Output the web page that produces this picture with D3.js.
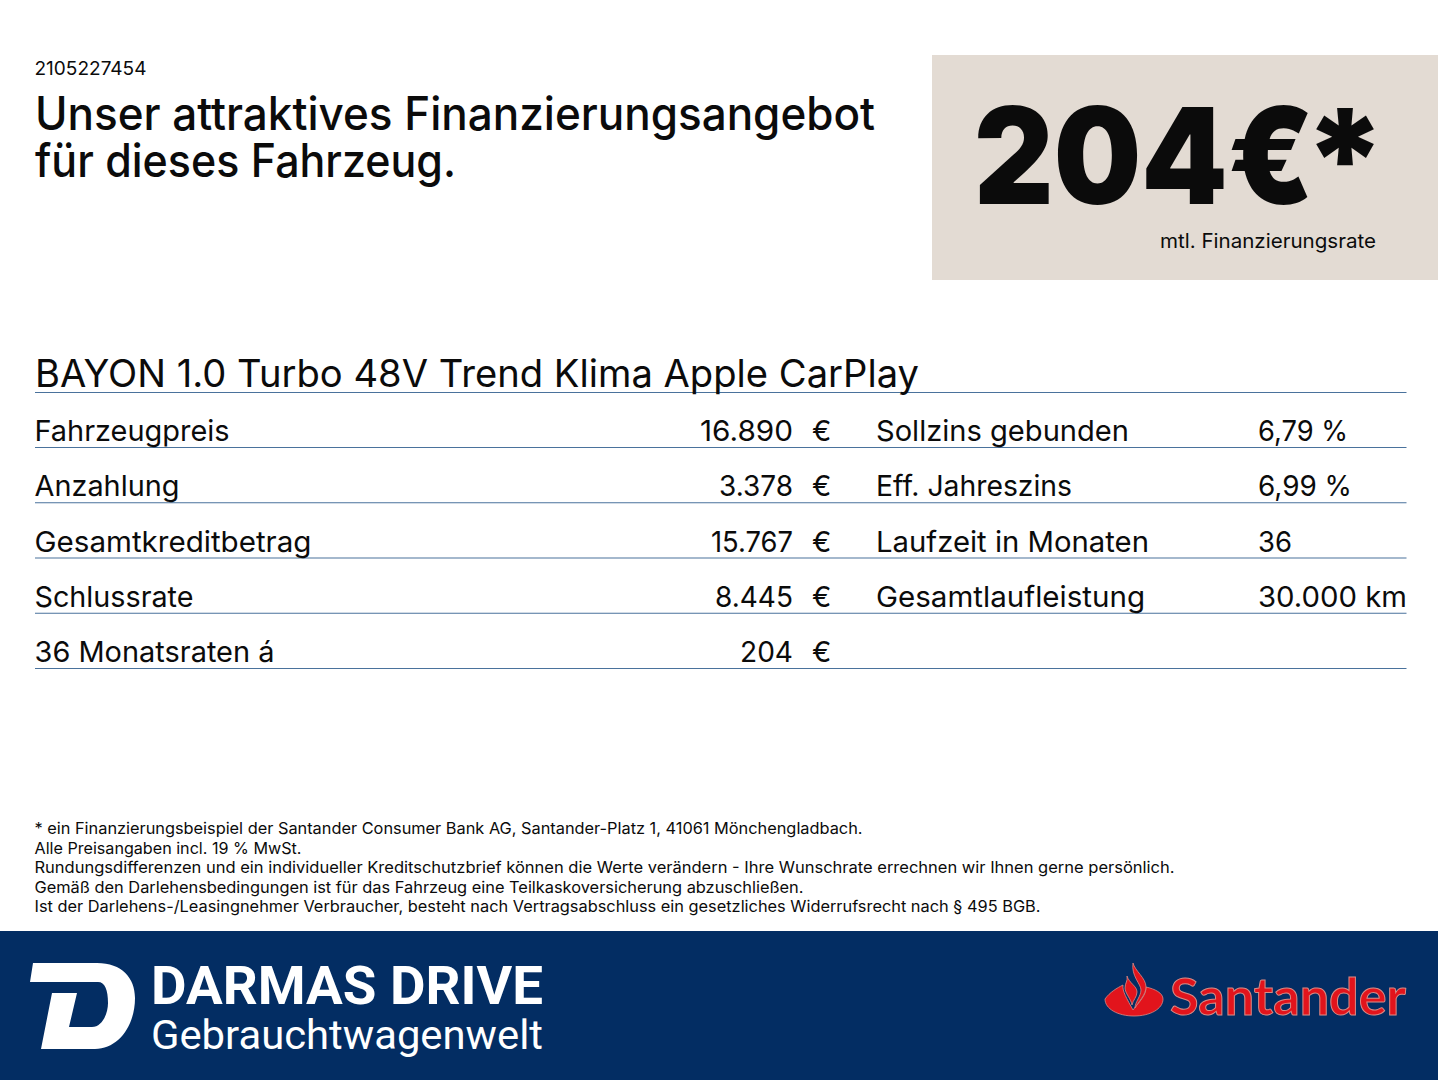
<!DOCTYPE html>
<html>
<head>
<meta charset="utf-8">
<script src="https://cdn.jsdelivr.net/npm/d3@7"></script>
<style>
  html, body { margin: 0; padding: 0; background: #fff; }
  svg { display: block; }
  text { font-family: Inter, sans-serif; fill: #0b0b0b; }
</style>
</head>
<body>
<div id="chart"></div>
<script>
const refNumber = '2105227454'
const headline = ['Unser attraktives Finanzierungsangebot', 'für dieses Fahrzeug.']
const priceLabel = '204€'
const priceStar = '*'
const priceNote = 'mtl. Finanzierungsrate'
const vehicle = 'BAYON 1.0 Turbo 48V Trend Klima Apple CarPlay'

const leftLabels = ['Fahrzeugpreis', 'Anzahlung', 'Gesamtkreditbetrag', 'Schlussrate', '36 Monatsraten á']
const leftValues = ['16.890', '3.378', '15.767', '8.445', '204']
const rightLabels = ['Sollzins gebunden', 'Eff. Jahreszins', 'Laufzeit in Monaten', 'Gesamtlaufleistung']
const rightValues = ['6,79 %', '6,99 %', '36', '30.000 km']

const footnotes = [
  '* ein Finanzierungsbeispiel der Santander Consumer Bank AG, Santander-Platz 1, 41061 Mönchengladbach.',
  'Alle Preisangaben incl. 19 % MwSt.',
  'Rundungsdifferenzen und ein individueller Kreditschutzbrief können die Werte verändern - Ihre Wunschrate errechnen wir Ihnen gerne persönlich.',
  'Gemäß den Darlehensbedingungen ist für das Fahrzeug eine Teilkaskoversicherung abzuschließen.',
  'Ist der Darlehens-/Leasingnehmer Verbraucher, besteht nach Vertragsabschluss ein gesetzliches Widerrufsrecht nach § 495 BGB.'
]

const W = 1438, H = 1080
const svg = d3.select('#chart').append('svg').attr('width', W).attr('height', H)

// fit a text to a width, the original font is not available
function fit(sel, width) {
  sel.attr('textLength', width).attr('lengthAdjust', 'spacingAndGlyphs')
  return sel
}

svg.append('rect').attr('width', W).attr('height', H).attr('fill', '#fff')

fit(svg.append('text').attr('x', 34.5).attr('y', 75).attr('font-size', 19).text(refNumber), 112)

const headlineWidths = [840, 421]
svg.selectAll('text.headline').data(headline).enter().append('text')
  .attr('class', 'headline')
  .attr('x', 35).attr('y', (d, i) => 130 + i * 47)
  .attr('font-size', 46).attr('font-weight', 500)
  .text(d => d)
  .each(function(d, i) { fit(d3.select(this), headlineWidths[i]) })

// price box
svg.append('rect').attr('x', 932).attr('y', 55).attr('width', 506).attr('height', 225).attr('fill', '#e3dbd3')
fit(svg.append('text').attr('x', 974).attr('y', 204).attr('font-size', 134)
  .attr('font-weight', 900).text(priceLabel), 340)
svg.append('text').attr('x', 1345).attr('y', 210).attr('font-size', 140)
  .attr('text-anchor', 'middle').attr('font-weight', 900).text(priceStar)
fit(svg.append('text').attr('x', 1160).attr('y', 247.5).attr('font-size', 20).text(priceNote), 216)

// table
const rowY = d3.scaleLinear().domain([0, 4]).range([447.5, 668.5])
const lineColor = '#4a729c'
const ruleEnd = 1406.5

svg.append('line').attr('x1', 35).attr('x2', ruleEnd).attr('y1', 392.5).attr('y2', 392.5)
  .attr('stroke', lineColor).attr('stroke-width', 1.2)
fit(svg.append('text').attr('x', 35).attr('y', 387).attr('font-size', 38).text(vehicle), 884)

svg.selectAll('line.row').data(leftLabels).enter().append('line')
  .attr('class', 'row')
  .attr('x1', 35).attr('x2', ruleEnd)
  .attr('y1', (d, i) => rowY(i)).attr('y2', (d, i) => rowY(i))
  .attr('stroke', lineColor).attr('stroke-width', 1.2)

const cellFont = 29
function cells(data, x, anchor, widths) {
  const group = svg.append('g')
  group.selectAll('text').data(data).enter().append('text')
    .attr('x', x).attr('y', (d, i) => rowY(i) - 6.5)
    .attr('font-size', cellFont).attr('text-anchor', anchor)
    .text(d => d)
    .each(function(d, i) { if (widths) fit(d3.select(this), widths[i]) })
}

cells(leftLabels, 34.5, 'start', [195, 145, 277, 159, 240])
cells(leftValues, 793, 'end', [93, 74, 82, 78, 53])
cells(leftValues.map(() => '€'), 812, 'start', null)
cells(rightLabels, 876, 'start', [253, 196, 273, 269])
cells(rightValues, 1258, 'start', [90, 94, 34, 149])

// small print
const footWidths = [828, 267, 1140, 769, 1006]
svg.selectAll('text.foot').data(footnotes).enter().append('text')
  .attr('class', 'foot')
  .attr('x', 34.5).attr('y', (d, i) => 834 + i * 19.5)
  .attr('font-size', 16)
  .text(d => d)
  .each(function(d, i) { fit(d3.select(this), footWidths[i]) })

// footer band
svg.append('rect').attr('x', 0).attr('y', 931).attr('width', W).attr('height', 149).attr('fill', '#032d63')

// darmas logo mark
svg.append('path')
  .attr('fill', '#fff')
  .attr('d', 'M33 963 L97 963 C122 963 135 978 135 998 C135 1026 118 1049 95 1049 L41 1049 L52 993 L77 993 L69 1027 L92 1027 C102 1027 108 1014 108 1003 C108 990 105 982 98 982 L30 982 Z')

fit(svg.append('text').attr('x', 151).attr('y', 1004).attr('font-size', 54)
  .attr('font-weight', 700).style('fill', '#fff').style('font-family', 'Roboto').text('DARMAS DRIVE'), 392)
fit(svg.append('text').attr('x', 151).attr('y', 1049).attr('font-size', 40)
  .style('fill', '#fff').style('font-family', 'Roboto').text('Gebrauchtwagenwelt'), 392)

// santander logo
const red = '#e2141c'
const halo = '#d98a85'
const flame = [
  'M1105 999 C1110 992 1117 988 1123 985 C1122 991 1127 999 1133 1010 C1139 1002 1146 996 1146 987 C1155 989 1163 993 1163 999 C1163 1009 1150 1016 1134 1016 C1118 1016 1105 1009 1105 999 Z',
  'M1127 976 C1129 983 1137 986 1137 992 C1137 997 1133 1000 1132 1005 C1131 999 1125 993 1125 988 C1125 983 1128 981 1127 976 Z',
  'M1133 963 C1135 971 1146 978 1146 987 C1146 995 1138 1002 1135 1008 C1135 1002 1141 996 1141 990 C1141 984 1131 976 1133 963 Z'
]
svg.selectAll('path.flame').data(flame).enter().append('path')
  .attr('class', 'flame')
  .attr('fill', red).attr('stroke', halo).attr('stroke-width', 0.8)
  .attr('d', d => d)
fit(svg.append('text').attr('x', 1170).attr('y', 1015).attr('font-size', 52).attr('font-weight', 700)
  .style('fill', red).style('stroke', halo).style('stroke-width', 1)
  .style('font-family', 'Lato').text('Santander'), 236)
</script>
</body>
</html>
